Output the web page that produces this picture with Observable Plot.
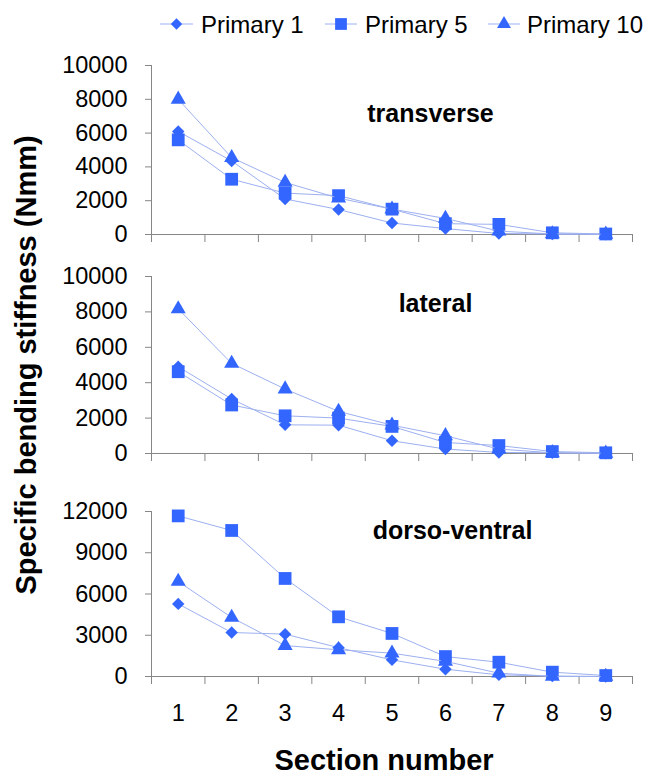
<!DOCTYPE html>
<html><head><meta charset="utf-8">
<script src="https://cdn.jsdelivr.net/npm/d3@7"></script>
<script src="https://cdn.jsdelivr.net/npm/@observablehq/plot@0.6"></script>
<style>
body{margin:0;background:#fff;font-family:"Liberation Sans",Arial,sans-serif;}
#chart{position:relative;width:649px;height:778px;overflow:hidden;background:#fff;}
.panel{position:absolute;left:0;}
#overlay{position:absolute;left:0;top:0;pointer-events:none;}
</style></head><body><div id="chart"></div>
<script>
// ---- data ----
const sections = [1, 2, 3, 4, 5, 6, 7, 8, 9];
const seriesNames = ["Primary 1", "Primary 5", "Primary 10"];
const panelNames = ["transverse", "lateral", "dorso-ventral"];

const transverseP1  = [6100, 4350, 2100, 1480, 680, 350, 60, 30, 10];
const transverseP5  = [5600, 3270, 2450, 2300, 1500, 640, 600, 100, 30];
const transverseP10 = [8000, 4550, 3080, 2150, 1500, 950, 200, 30, 10];

const lateralP1  = [4900, 3080, 1620, 1600, 720, 250, 60, 40, 10];
const lateralP5  = [4620, 2740, 2130, 2000, 1530, 620, 450, 110, 40];
const lateralP10 = [8170, 5090, 3640, 2380, 1600, 1000, 250, 40, 10];

const dorsoP1  = [5280, 3200, 3080, 2100, 1210, 530, 120, 30, 0];
const dorsoP5  = [11680, 10620, 7130, 4340, 3130, 1450, 1040, 315, 70];
const dorsoP10 = [6910, 4290, 2250, 1940, 1700, 1100, 240, 10, 0];

const yTicks1 = [0, 2000, 4000, 6000, 8000, 10000];
const yTicks2 = [0, 2000, 4000, 6000, 8000, 10000];
const yTicks3 = [0, 3000, 6000, 9000, 12000];

const yTitle = "Specific bending stiffness (Nmm)";
const xTitle = "Section number";

// ---- style ----
const FONT = "'Liberation Sans', Arial, sans-serif";
const markerBlue = "#3366ff";
const lineBlue = "#9db0f0";
const gray = "#868686";
const symbols = ["diamond2", "square", "triangle"];
const radii = [5.6, 7.2, 5.6];
const boundaries = d3.range(0.5, 9.51, 1);

function rowsFor(values) {
  return sections.map((s, i) => ({section: s, value: values[i]}));
}

function makePanel(cfg) {
  const marks = [
    Plot.ruleY([0], {stroke: gray, strokeWidth: 1}),
    Plot.ruleX([0.5], {y1: 0, y2: cfg.yMax, stroke: gray, strokeWidth: 1}),
    Plot.axisX({ticks: boundaries, tickSize: 8, tickFormat: () => "", stroke: gray, label: null}),
    Plot.axisY({ticks: cfg.yTicks, tickSize: 6, tickPadding: 18, tickFormat: d => String(d),
      stroke: gray, fill: "black", fontSize: 23.5, fontFamily: FONT, label: null})
  ];
  if (cfg.showX) {
    marks.push(Plot.axisX({ticks: sections, tickSize: 0, tickPadding: 28, tickFormat: d => String(d),
      fill: "black", fontSize: 23.5, fontFamily: FONT, label: null}));
  }
  cfg.series.forEach((vals, k) => {
    const rows = rowsFor(vals);
    marks.push(Plot.line(rows, {x: "section", y: "value", stroke: lineBlue, strokeWidth: 1}));
    marks.push(Plot.dot(rows, {x: "section", y: "value", symbol: symbols[k], r: radii[k], fill: markerBlue, stroke: "none"}));
  });
  marks.push(Plot.text([cfg.label], {frameAnchor: "top-left", dx: cfg.labelDx, dy: cfg.labelDy,
    text: d => d, textAnchor: "middle", lineAnchor: "middle", fontWeight: "bold", fontSize: 25, fontFamily: FONT, fill: "black"}));

  const svg = Plot.plot({
    width: 649, height: cfg.height,
    marginLeft: 151, marginRight: 17, marginTop: cfg.marginTop, marginBottom: cfg.marginBottom,
    style: {fontFamily: FONT, fontSize: "23.5px", color: "black", background: "transparent", overflow: "visible"},
    x: {domain: [0.5, 9.5], axis: null, label: null},
    y: {domain: [0, cfg.yMax], axis: null, label: null},
    marks
  });
  svg.classList.add("panel");
  svg.style.top = cfg.top + "px";
  svg.style.position = "absolute";
  return svg;
}

const chart = document.getElementById("chart");

chart.appendChild(makePanel({top: 40, height: 208, marginTop: 25, marginBottom: 14, yMax: 10000, yTicks: yTicks1,
  series: [transverseP1, transverseP5, transverseP10], label: panelNames[0], labelDx: 279, labelDy: 48}));
chart.appendChild(makePanel({top: 250, height: 217, marginTop: 26, marginBottom: 14, yMax: 10000, yTicks: yTicks2,
  series: [lateralP1, lateralP5, lateralP10], label: panelNames[1], labelDx: 284, labelDy: 27}));
chart.appendChild(makePanel({top: 471, height: 265, marginTop: 40, marginBottom: 60, yMax: 12000, yTicks: yTicks3,
  series: [dorsoP1, dorsoP5, dorsoP10], label: panelNames[2], labelDx: 301, labelDy: 19, showX: true}));

// ---- overlay: legend and axis titles ----
const ov = d3.select(chart).append("svg").attr("id", "overlay").attr("width", 649).attr("height", 778)
  .style("font-family", FONT);

const legendItems = [
  {x0: 160, x1: 193, tx: 201},
  {x0: 325, x1: 357, tx: 365},
  {x0: 488, x1: 520, tx: 527}
];
const ly = 24;
seriesNames.forEach((name, k) => {
  const it = legendItems[k];
  ov.append("line").attr("x1", it.x0).attr("x2", it.x1).attr("y1", ly).attr("y2", ly)
    .attr("stroke", lineBlue).attr("stroke-width", 1);
  const sym = [d3.symbolDiamond2, d3.symbolSquare, d3.symbolTriangle][k];
  ov.append("path").attr("d", d3.symbol(sym, Math.PI * radii[k] * radii[k] * 0.85)())
    .attr("transform", `translate(${(it.x0 + it.x1) / 2},${ly})`).attr("fill", markerBlue);
  ov.append("text").attr("x", it.tx).attr("y", ly + 8.6).attr("font-size", 24).attr("fill", "black").text(name);
});

ov.append("text").attr("transform", "translate(36,365) rotate(-90)").attr("text-anchor", "middle")
  .attr("font-size", 29).attr("font-weight", "bold").attr("fill", "black").text(yTitle);
ov.append("text").attr("x", 384).attr("y", 770).attr("text-anchor", "middle")
  .attr("font-size", 29).attr("font-weight", "bold").attr("fill", "black").text(xTitle);
</script>
</body></html>
